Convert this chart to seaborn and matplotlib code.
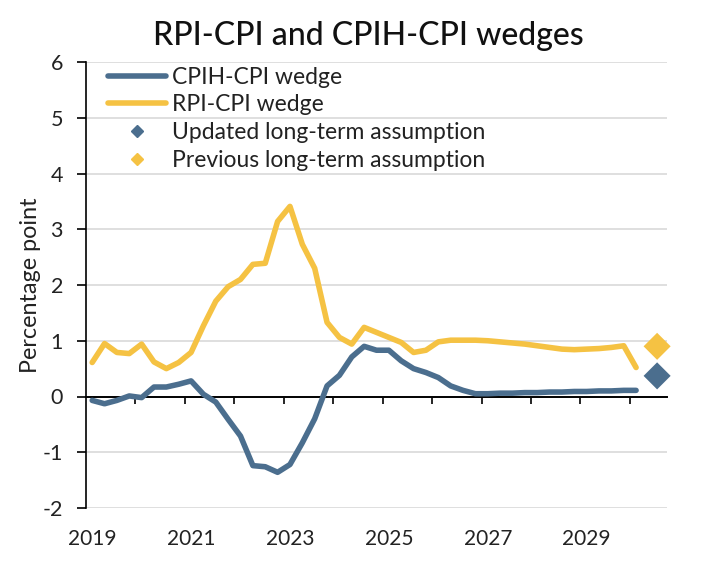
import matplotlib
matplotlib.use("Agg")
import matplotlib.pyplot as plt
from matplotlib.lines import Line2D
import seaborn as sns
import pandas as pd
import numpy as np

# Quarterly categories 2019Q1 .. 2030Q3
years = list(range(2019, 2031))
quarters = [f"{y}Q{q}" for y in years for q in range(1, 5)][:47]

cpih_cpi = [-0.07, -0.13, -0.07, 0.01, -0.02, 0.17, 0.17, 0.22, 0.28, 0.04,
            -0.10, -0.41, -0.71, -1.24, -1.26, -1.36, -1.22, -0.83, -0.40, 0.19,
            0.38, 0.71, 0.90, 0.83, 0.83, 0.64, 0.50, 0.43, 0.34, 0.19,
            0.11, 0.05, 0.05, 0.06, 0.06, 0.07, 0.07, 0.08, 0.08, 0.09,
            0.09, 0.10, 0.10, 0.11, 0.11]
rpi_cpi = [0.61, 0.95, 0.79, 0.77, 0.94, 0.62, 0.50, 0.61, 0.79, 1.27,
           1.71, 1.97, 2.10, 2.37, 2.39, 3.14, 3.41, 2.73, 2.30, 1.33,
           1.06, 0.94, 1.24, 1.15, 1.06, 0.97, 0.79, 0.83, 0.98, 1.01,
           1.01, 1.01, 1.00, 0.98, 0.96, 0.94, 0.91, 0.88, 0.85, 0.84,
           0.85, 0.86, 0.88, 0.91, 0.52]

assumption_quarter = "2030Q3"
updated_assumption = 0.37
previous_assumption = 0.90

tick_labels = ["2019", "2021", "2023", "2025", "2027", "2029"]

BLUE = "#4B6E8E"
YELLOW = "#F5C243"
LW = 4.0

sns.set_style("white")
plt.rcParams["font.family"] = ["Lato", "DejaVu Sans"]

fig = plt.figure(figsize=(7.02, 5.66), dpi=100)
ax = fig.add_axes([86 / 702, 1 - 508 / 566, (667 - 86) / 702, (508 - 62) / 566])

idx = np.arange(len(quarters))
n = len(cpih_cpi)
df = pd.DataFrame({
    "x": np.concatenate([idx[:n], idx[:n]]),
    "value": cpih_cpi + rpi_cpi,
    "series": ["CPIH-CPI wedge"] * n + ["RPI-CPI wedge"] * n,
})
sns.lineplot(data=df, x="x", y="value", hue="series",
             palette={"CPIH-CPI wedge": BLUE, "RPI-CPI wedge": YELLOW},
             linewidth=LW, ax=ax, legend=False, solid_capstyle="round",
             zorder=4)

ax_pos = quarters.index(assumption_quarter)
sns.scatterplot(x=[ax_pos - 0.3], y=[updated_assumption], marker="D", s=190,
                color=BLUE, edgecolor="none", ax=ax, legend=False, zorder=5,
                clip_on=False)
sns.scatterplot(x=[ax_pos - 0.3], y=[previous_assumption], marker="D", s=190,
                color=YELLOW, edgecolor="none", ax=ax, legend=False, zorder=5,
                clip_on=False)

ax.set_xlim(-0.5, len(quarters) - 0.5)
ax.set_ylim(-2, 6)
ax.set_yticks(range(-2, 7))
ax.set_yticklabels([str(v) for v in range(-2, 7)])
ax.yaxis.grid(True, color="#d9d9d9", linewidth=1.2)
ax.set_axisbelow(True)

# x axis crossing at zero with year-boundary ticks
ax.spines["bottom"].set_position(("data", 0))
ax.spines["bottom"].set_visible(True)
ax.spines["bottom"].set_color("black")
ax.spines["bottom"].set_linewidth(1.4)
ax.set_xticks([quarters.index(f"{y}Q1") - 0.5 for y in range(2020, 2031)])
ax.tick_params(axis="x", bottom=True, length=5, width=1.2, direction="out",
               color="black", labelbottom=False)

# year labels along the bottom of the plot
xtr = ax.get_xaxis_transform()
for t in tick_labels:
    ax.text(quarters.index(f"{t}Q1"), -0.047, t, transform=xtr, ha="center",
            va="top", fontsize=15, color="#222222")

ax.tick_params(axis="y", left=True, length=6.5, width=1.2, direction="out",
               labelsize=15.5, pad=10, color="black", labelcolor="#222222")

for s in ["top", "right"]:
    ax.spines[s].set_visible(False)
ax.spines["left"].set_color("black")
ax.spines["left"].set_linewidth(1.2)

ax.set_ylabel("Percentage point", fontsize=16.8, color="#222222", labelpad=1)
ax.set_xlabel("")

handles = [
    Line2D([], [], color=BLUE, linewidth=LW),
    Line2D([], [], color=YELLOW, linewidth=LW),
    Line2D([], [], color=BLUE, marker="D", linestyle="none", markersize=6),
    Line2D([], [], color=YELLOW, marker="D", linestyle="none", markersize=6),
]
labels = ["CPIH-CPI wedge", "RPI-CPI wedge", "Updated long-term assumption",
          "Previous long-term assumption"]
leg = ax.legend(handles, labels, loc="upper left",
                bbox_to_anchor=(17 / 581, 1.0),
                frameon=False, fontsize=16.5, handlelength=2.55, handletextpad=0.25,
                labelspacing=0.3, borderaxespad=0, borderpad=0.2)
for t in leg.get_texts():
    t.set_color("#222222")

fig.text(368 / 702, 1 - 36 / 566, "RPI-CPI and CPIH-CPI wedges", ha="center",
         va="center", fontsize=23, fontweight="medium", color="#111111")

fig.savefig("out.png", dpi=100)
